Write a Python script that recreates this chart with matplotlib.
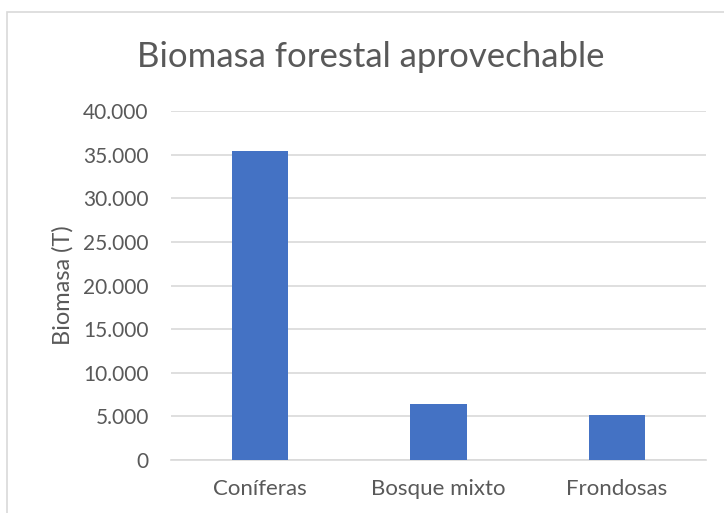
import matplotlib.pyplot as plt
from matplotlib.patches import Rectangle
from matplotlib.ticker import FuncFormatter, MultipleLocator

categorias = ["Coníferas", "Bosque mixto", "Frondosas"]
biomasa = [35400, 6450, 5120]

gris_texto = "#595959"
gris_linea = "#d9d9d9"
azul = "#4472C4"

plt.rcParams['font.family'] = ['Lato', 'DejaVu Sans']

fig = plt.figure(figsize=(7.24, 5.13), dpi=100)
ax = fig.add_axes([171 / 724, 1 - 460 / 513, 535 / 724, 349 / 513])

x = range(len(categorias))
ax.bar(x, biomasa, width=0.315, color=azul, zorder=3)

ax.set_xlim(-0.5, len(categorias) - 0.5)
ax.set_ylim(0, 40000)
ax.yaxis.set_major_locator(MultipleLocator(5000))
ax.yaxis.set_major_formatter(FuncFormatter(lambda v, p: f"{int(v):,}".replace(",", ".")))
ax.grid(axis='y', color=gris_linea, linewidth=1.2, zorder=0)
ax.set_xticks(list(x))
ax.set_xticklabels(categorias, fontsize=16)

for s in ['top', 'right', 'left']:
    ax.spines[s].set_visible(False)
ax.spines['bottom'].set_color(gris_linea)
ax.spines['bottom'].set_linewidth(1.2)
ax.tick_params(axis='both', length=0, colors=gris_texto)
ax.tick_params(axis='y', labelsize=15, pad=16)
ax.tick_params(axis='x', pad=14)

ax.set_ylabel("Biomasa (T)", color=gris_texto, fontsize=17, labelpad=7)

fig.text(371 / 724, 1 - 57 / 513, "Biomasa forestal aprovechable", ha='center', va='center',
         fontsize=25, color=gris_texto)

# marco del grafico
fig.patches.append(Rectangle((7 / 724, -0.01), 1, 1 - 12 / 513 + 0.01, transform=fig.transFigure,
                             fill=False, edgecolor=gris_linea, linewidth=1.2))

fig.savefig("out.png", dpi=100)
